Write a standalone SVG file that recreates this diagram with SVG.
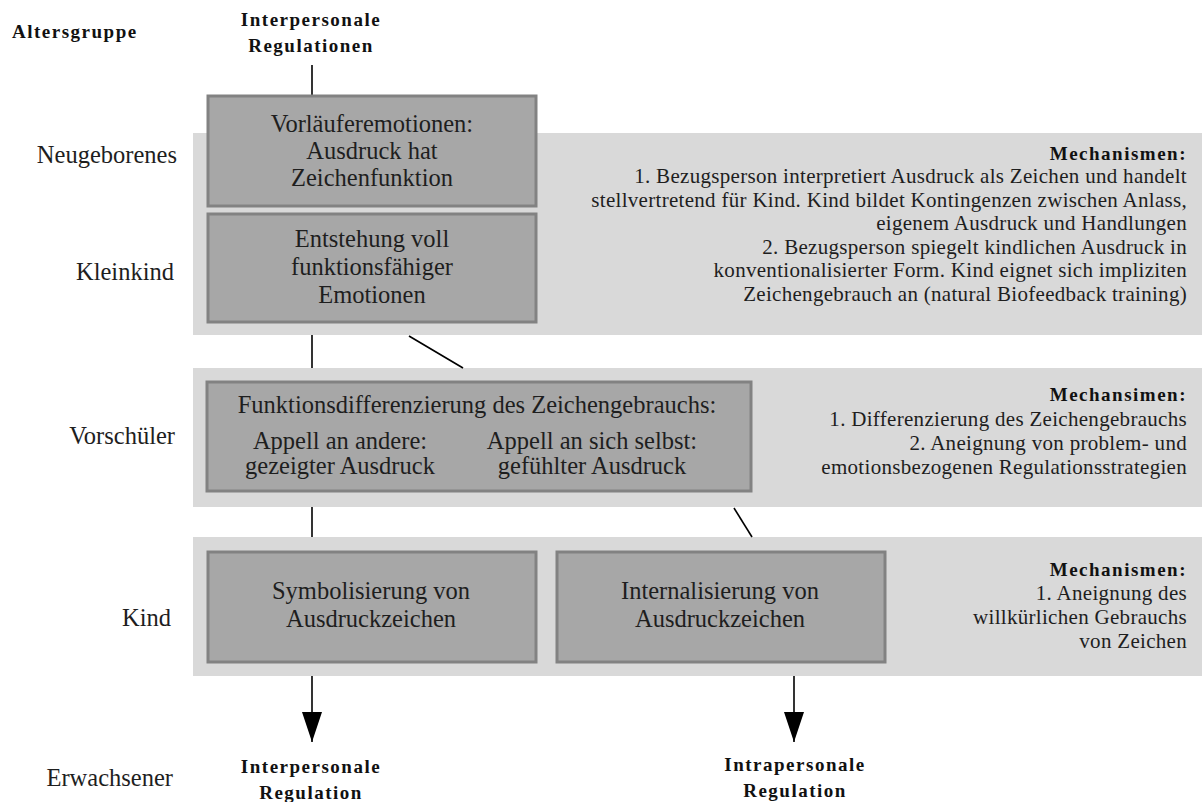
<svg xmlns="http://www.w3.org/2000/svg" width="1202" height="802" viewBox="0 0 1202 802">
<defs>
<style>
.band{fill:#d9d9d9;}
.box{fill:#a7a7a7;stroke:#828282;stroke-width:3;}
.t{font-family:"Liberation Serif","Times New Roman",serif;font-size:24.5px;fill:#1e1e1e;}
.m{font-family:"Liberation Serif","Times New Roman",serif;font-size:21px;letter-spacing:0.3px;fill:#1e1e1e;text-anchor:end;}
.h{font-family:"Liberation Serif","Times New Roman",serif;font-size:19px;font-weight:bold;letter-spacing:1.5px;fill:#111;}
.c{text-anchor:middle;}
.e{text-anchor:end;}
.ln{stroke:#000;stroke-width:1.6;fill:none;}
</style>
<marker id="ah" viewBox="0 0 30 20" refX="30" refY="10" markerUnits="userSpaceOnUse" markerWidth="30" markerHeight="20" orient="auto">
<path d="M0,0 L30,10 L0,20 z" fill="#000"/>
</marker>
</defs>
<rect width="1202" height="802" fill="#fff"/>

<g id="bands">
<rect class="band" x="193" y="133" width="1009" height="202"/>
<rect class="band" x="193" y="368" width="1009" height="139"/>
<rect class="band" x="193" y="537" width="1009" height="139"/>
</g>

<g id="headers">
<text class="h" x="12" y="38">Altersgruppe</text>
<text class="h c" x="311" y="26">Interpersonale</text>
<text class="h c" x="311" y="52">Regulationen</text>
</g>

<g id="ages">
<text class="t e" x="177" y="163">Neugeborenes</text>
<text class="t e" x="174" y="280">Kleinkind</text>
<text class="t e" x="175" y="444">Vorschüler</text>
<text class="t e" x="171" y="626">Kind</text>
<text class="t e" x="173" y="786">Erwachsener</text>
</g>

<g id="connectors">
<line class="ln" x1="312" y1="65" x2="312" y2="96"/>
<line class="ln" x1="312" y1="335" x2="312" y2="368"/>
<line class="ln" x1="409" y1="336" x2="463" y2="368"/>
<line class="ln" x1="312" y1="507" x2="312" y2="537"/>
<line class="ln" x1="734" y1="508" x2="752" y2="537"/>
<line class="ln" x1="312" y1="676" x2="312" y2="742" marker-end="url(#ah)"/>
<line class="ln" x1="794" y1="676" x2="794" y2="742" marker-end="url(#ah)"/>
</g>

<g id="node-vorlaeufer">
<rect class="box" x="208" y="96" width="328" height="110"/>
<text class="t c" x="372" y="132">Vorläuferemotionen:</text>
<text class="t c" x="372" y="159">Ausdruck hat</text>
<text class="t c" x="372" y="186">Zeichenfunktion</text>
</g>

<g id="node-entstehung">
<rect class="box" x="208" y="214" width="328" height="108"/>
<text class="t c" x="372" y="247">Entstehung voll</text>
<text class="t c" x="372" y="275">funktionsfähiger</text>
<text class="t c" x="372" y="303">Emotionen</text>
</g>

<g id="node-funktionsdiff">
<rect class="box" x="207" y="382" width="544" height="109"/>
<text class="t c" x="477" y="413">Funktionsdifferenzierung des Zeichengebrauchs:</text>
<text class="t c" x="340" y="449">Appell an andere:</text>
<text class="t c" x="340" y="474">gezeigter Ausdruck</text>
<text class="t c" x="592" y="449">Appell an sich selbst:</text>
<text class="t c" x="592" y="474">gefühlter Ausdruck</text>
</g>

<g id="node-symbolisierung">
<rect class="box" x="208" y="552" width="328" height="110"/>
<text class="t c" x="371" y="599">Symbolisierung von</text>
<text class="t c" x="371" y="627">Ausdruckzeichen</text>
</g>

<g id="node-internalisierung">
<rect class="box" x="557" y="552" width="328" height="110"/>
<text class="t c" x="720" y="599">Internalisierung von</text>
<text class="t c" x="720" y="627">Ausdruckzeichen</text>
</g>

<g id="mech-1">
<text class="h e" x="1187" y="160">Mechanismen:</text>
<text class="m" x="1187" y="183">1. Bezugsperson interpretiert Ausdruck als Zeichen und handelt</text>
<text class="m" x="1187" y="206.5">stellvertretend für Kind. Kind bildet Kontingenzen zwischen Anlass,</text>
<text class="m" x="1187" y="230">eigenem Ausdruck und Handlungen</text>
<text class="m" x="1187" y="253.5">2. Bezugsperson spiegelt kindlichen Ausdruck in</text>
<text class="m" x="1187" y="277">konventionalisierter Form. Kind eignet sich impliziten</text>
<text class="m" x="1187" y="300.5">Zeichengebrauch an (natural Biofeedback training)</text>
</g>

<g id="mech-2">
<text class="h e" x="1187" y="401">Mechansimen:</text>
<text class="m" x="1187" y="426">1. Differenzierung des Zeichengebrauchs</text>
<text class="m" x="1187" y="450">2. Aneignung von problem- und</text>
<text class="m" x="1187" y="474">emotionsbezogenen Regulationsstrategien</text>
</g>

<g id="mech-3">
<text class="h e" x="1187" y="576">Mechanismen:</text>
<text class="m" x="1187" y="600">1. Aneignung des</text>
<text class="m" x="1187" y="624">willkürlichen Gebrauchs</text>
<text class="m" x="1187" y="648">von Zeichen</text>
</g>

<g id="outputs">
<text class="h c" x="311" y="773">Interpersonale</text>
<text class="h c" x="311" y="799">Regulation</text>
<text class="h c" x="795" y="771">Intrapersonale</text>
<text class="h c" x="795" y="797">Regulation</text>
</g>
</svg>
